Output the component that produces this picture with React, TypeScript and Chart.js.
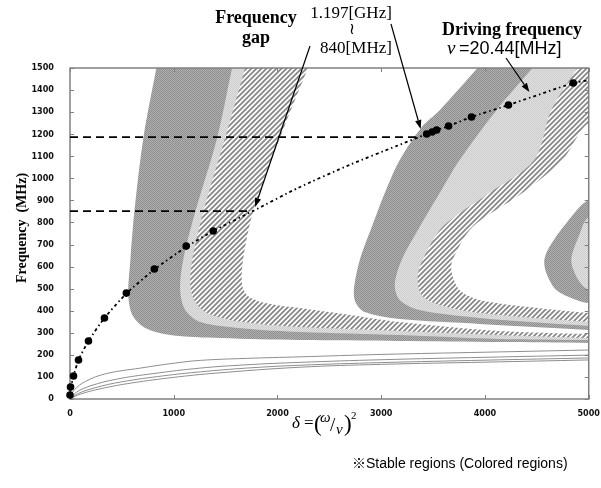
import React, { useEffect, useRef } from "react";
import { Chart, registerables } from "chart.js";

Chart.register(...registerables);

type Pt = [number, number];

// ---- axes ----
const X_MIN = 0, X_MAX = 5000, X_STEP = 1000;
const Y_MIN = 0, Y_MAX = 1500, Y_STEP = 100;

// ---- first stability tongue (left) : boundaries (delta, MHz) ----
const tongueA_outer: Pt[] = [[832,1500],[707,1183],[620,847],[582,630],[562,471],[601,381],[726,322],[966,290],[1447,276],[2216,267],[3178,263],[4139,258],[5000,254]];
const tongueA_mid1: Pt[] = [[1562,1500],[1418,1183],[1207,847],[1091,630],[1062,494],[1111,403],[1255,349],[1736,317],[2216,304],[3178,290],[4139,272],[5000,267]];
const tongueA_mid2: Pt[] = [[1688,1500],[1495,1183],[1284,847],[1178,630],[1159,517],[1197,449],[1303,394],[1543,358],[1832,340],[2216,326],[3178,308],[4139,290],[5000,276]];
const tongueA_inner: Pt[] = [[2293,1500],[2024,1183],[1764,847],[1668,630],[1659,517],[1716,467],[1880,435],[2216,412],[2697,381],[3178,349],[4139,308],[5000,294]];

// ---- second tongue (middle) ----
const tongueB_outer: Pt[] = [[3928,1500],[3563,1309],[3390,1232],[3178,1083],[3034,933],[2909,779],[2793,630],[2736,494],[2755,435],[2841,394],[3178,362],[3947,340],[5000,313]];
const tongueB_mid1: Pt[] = [[4457,1500],[4110,1309],[3755,1083],[3563,933],[3370,779],[3197,630],[3130,517],[3178,449],[3370,403],[3947,367],[5000,331]];
const tongueB_mid2: Pt[] = [[4889,1500],[4639,1309],[4475,1083],[4043,933],[3591,779],[3399,630],[3351,553],[3389,471],[3563,426],[3947,390],[5000,349]];
const tongueB_inner: Pt[] = [[5000,1251],[4745,1083],[4360,933],[3880,779],[3688,630],[3678,575],[3755,494],[3947,449],[4428,417],[5000,390]];

// ---- third tongue (right, partial) ----
const tongueC_outer: Pt[] = [[5000,902],[4783,797],[4620,689],[4572,630],[4591,571],[4687,494],[4880,449],[5000,435]];
const tongueC_inner: Pt[] = [[5000,825],[4909,743],[4832,630],[4889,548],[5000,494]];

// ---- thin low curves ----
const low1: Pt[] = [[0,0],[40,40],[150,80],[350,115],[677,140],[1000,162],[1255,175],[1700,184],[2216,191],[3000,202],[4000,212],[5000,222]];
const low2: Pt[] = [[0,0],[60,30],[200,60],[450,90],[800,115],[1255,140],[1700,155],[2216,166],[3000,178],[4000,189],[5000,199]];
const low3: Pt[] = [[0,0],[80,25],[250,52],[500,78],[900,105],[1255,123],[1700,140],[2216,153],[3000,165],[4000,176],[5000,186]];
const low4: Pt[] = [[0,0],[100,22],[300,47],[600,73],[1000,98],[1400,117],[2216,144],[3000,157],[4000,167],[5000,177]];

// ---- driving frequency curve (dotted) and measured points ----
const drivingCurve: Pt[] = [[0,0],[5,46],[34,104],[82,177],[178,263],[332,367],[543,478],[813,587],[1120,689],[1380,761],[1760,851],[2200,957],[2700,1062],[3150,1147],[3438,1201],[3534,1219],[3649,1237],[3870,1278],[4226,1332],[4851,1432],[5000,1445]];
const dotDelta = [0, 5, 34, 82, 178, 332, 543, 813, 1120, 1380, 3438, 3490, 3534, 3649, 3870, 4226, 4851];
const dotFreq = [18, 54, 104, 177, 263, 367, 480, 589, 693, 761, 1201, 1210, 1219, 1237, 1278, 1332, 1432];

// ---- frequency gap markers ----
const gapHigh = 1187, gapHighEnd = 3372;
const gapLow = 851, gapLowEnd = 1760;

// arrow tips (data units)
const arrowTips: Pt[] = [[1784, 870], [3380, 1223], [4428, 1391]];

const SERIF = '"Liberation Serif", "Times New Roman", serif';
const SANS = '"Liberation Sans", Arial, "Noto Sans CJK JP", sans-serif';

function hasFont(name: string) {
  const c = document.createElement("canvas").getContext("2d")!;
  c.font = "20px monospace";
  const w0 = c.measureText("0123456789abcW").width;
  c.font = `20px "${name}", monospace`;
  return c.measureText("0123456789abcW").width !== w0;
}

function extendTopRight(pts: Pt[]): Pt[] {
  const a = pts[0], b = pts[1];
  const n = pts.length;
  const y = pts[n - 1], z = pts[n - 2];
  const kt = 150 / (a[1] - b[1]);
  const top: Pt = [a[0] + (a[0] - b[0]) * kt, a[1] + 150];
  const kr = 300 / (y[0] - z[0]);
  const right: Pt = [y[0] + 300, y[1] + (y[1] - z[1]) * kr];
  return [top, ...pts, right, [X_MAX + 700, Y_MAX + 500], [top[0], Y_MAX + 500]];
}
function extendRight(pts: Pt[]): Pt[] {
  const a = pts[0], y = pts[pts.length - 1];
  return [[a[0] + 300, a[1]], ...pts, [y[0] + 300, y[1]]];
}

export default function App() {
  const ref = useRef<HTMLCanvasElement>(null);
  useEffect(() => {
    const canvas = ref.current!;
    const ctx = canvas.getContext("2d")!;
    const pat = (w: number, h: number, draw: (g: CanvasRenderingContext2D) => void) => {
      const c = document.createElement("canvas");
      c.width = w; c.height = h;
      const g = c.getContext("2d")!;
      draw(g);
      return ctx.createPattern(c, "repeat")!;
    };
    const dark = pat(2, 2, (g) => {
      g.fillStyle = "#b0b0b0"; g.fillRect(0, 0, 2, 2);
      g.fillStyle = "#8e8e8e"; g.fillRect(0, 0, 1, 1); g.fillRect(1, 1, 1, 1);
    });
    const light = pat(2, 2, (g) => {
      g.fillStyle = "#e0e0e0"; g.fillRect(0, 0, 2, 2);
      g.fillStyle = "#cdcdcd"; g.fillRect(0, 0, 1, 1); g.fillRect(1, 1, 1, 1);
    });
    const hatch = pat(5, 5, (g) => {
      g.fillStyle = "#ffffff"; g.fillRect(0, 0, 5, 5);
      g.strokeStyle = "#888888"; g.lineWidth = 1.8;
      g.beginPath();
      g.moveTo(-1, 6); g.lineTo(6, -1);
      g.moveTo(-1, 1); g.lineTo(1, -1);
      g.moveTo(4, 6); g.lineTo(6, 4);
      g.stroke();
    });

    const toXY = (pts: Pt[]) => pts.map(([x, y]) => ({ x, y }));
    const region = (label: string, pts: Pt[], bg: any, order: number) => ({
      label, data: toXY(pts), fill: "shape", backgroundColor: bg, borderWidth: 0,
      borderColor: "rgba(0,0,0,0)", pointRadius: 0, tension: 0.3, order,
    });
    const thin = (label: string, pts: Pt[], order: number) => ({
      label, data: toXY(pts), fill: false, borderColor: "#8e8e8e", borderWidth: 1,
      pointRadius: 0, tension: 0.4, order,
    });

    const narrow = hasFont("Liberation Sans Narrow");
    const tickFont = narrow
      ? { family: '"Liberation Sans Narrow"', size: 11, weight: "bold" as const }
      : { family: '"DejaVu Sans Condensed", "DejaVu Sans", sans-serif', size: 9, weight: "bold" as const };

    const datasets: any[] = [
      region("A0", extendTopRight(tongueA_outer), dark, 100),
      region("A1", extendTopRight(tongueA_mid1), light, 99),
      region("A2", extendTopRight(tongueA_mid2), hatch, 98),
      region("A3", extendTopRight(tongueA_inner), "#ffffff", 97),
      region("B0", extendTopRight(tongueB_outer), dark, 96),
      region("B1", extendTopRight(tongueB_mid1), light, 95),
      region("B2", extendTopRight(tongueB_mid2), hatch, 94),
      region("B3", extendRight(tongueB_inner), "#ffffff", 93),
      region("C0", extendRight(tongueC_outer), dark, 92),
      region("C1", extendRight(tongueC_inner), light, 91),
      thin("low1", low1, 50),
      thin("low2", low2, 49),
      thin("low3", low3, 48),
      thin("low4", low4, 47),
      {
        label: "gapHigh", data: [{ x: 0, y: gapHigh }, { x: gapHighEnd, y: gapHigh }],
        borderColor: "#000", borderWidth: 1.8, borderDash: [8, 5], pointRadius: 0, fill: false, order: 6,
      },
      {
        label: "gapLow", data: [{ x: 0, y: gapLow }, { x: gapLowEnd, y: gapLow }],
        borderColor: "#000", borderWidth: 1.8, borderDash: [8, 5], pointRadius: 0, fill: false, order: 5,
      },
      {
        label: "driving", data: toXY(drivingCurve), borderColor: "#000", borderWidth: 1.8,
        borderDash: [3, 3, 1.5, 3], pointRadius: 0, fill: false, tension: 0.2, order: 3,
      },
      {
        label: "dots", data: dotDelta.map((d, i) => ({ x: d, y: dotFreq[i] })), showLine: false,
        pointRadius: 3.8, pointBackgroundColor: "#000", pointBorderColor: "#000", borderWidth: 0,
        fill: false, clip: false, order: 1,
      },
    ];

    const drawFrame = (chart: any) => {
      const { left, right, top, bottom } = chart.chartArea;
      const c = chart.ctx;
      c.save();
      c.strokeStyle = "#808080";
      c.lineWidth = 1.5;
      c.strokeRect(left, top, right - left, bottom - top);
      c.lineWidth = 1;
      c.beginPath();
      const xs = chart.scales.x, ys = chart.scales.y;
      xs.ticks.forEach((t: any) => {
        const px = Math.round(xs.getPixelForValue(t.value)) + 0.5;
        c.moveTo(px, bottom); c.lineTo(px, bottom - 4);
        c.moveTo(px, top); c.lineTo(px, top + 4);
      });
      ys.ticks.forEach((t: any) => {
        const py = Math.round(ys.getPixelForValue(t.value)) + 0.5;
        c.moveTo(left, py); c.lineTo(left + 4, py);
        c.moveTo(right, py); c.lineTo(right - 4, py);
      });
      c.stroke();
      c.restore();
    };

    const arrow = (c: CanvasRenderingContext2D, x1: number, y1: number, x2: number, y2: number) => {
      const a = Math.atan2(y2 - y1, x2 - x1);
      const L = 9, W = 3.2;
      const bx = x2 - L * Math.cos(a), by = y2 - L * Math.sin(a);
      c.beginPath(); c.moveTo(x1, y1); c.lineTo(bx, by); c.stroke();
      c.beginPath();
      c.moveTo(x2, y2);
      c.lineTo(bx + W * Math.sin(a), by - W * Math.cos(a));
      c.lineTo(bx - W * Math.sin(a), by + W * Math.cos(a));
      c.closePath(); c.fill();
    };

    const decor = {
      id: "decor",
      afterDatasetDraw(chart: any, args: any) {
        if (chart.data.datasets[args.index].label === "low4") drawFrame(chart);
      },
      afterDraw(chart: any) {
        const c: CanvasRenderingContext2D = chart.ctx;
        const xs = chart.scales.x, ys = chart.scales.y;
        c.save();
        c.fillStyle = "#000"; c.strokeStyle = "#000"; c.textBaseline = "alphabetic";
        const t = (s: string, x: number, y: number, font: string, align: CanvasTextAlign = "center") => {
          c.font = font; c.textAlign = align; c.fillText(s, x, y);
        };
        // annotations
        t("Frequency", 256, 23, `bold 18px ${SERIF}`);
        t("gap", 256, 43, `bold 18px ${SERIF}`);
        t("1.197[GHz]", 351, 18, `17px ${SERIF}`);
        t("\u2240", 352, 34, `16px "DejaVu Serif", ${SERIF}`);
        t("840[MHz]", 356, 53, `17px ${SERIF}`);
        t("Driving frequency", 512, 35, `bold 18px ${SERIF}`);
        t("\u03BD", 447, 54, `italic 19px ${SERIF}`, "left");
        t("=20.44[MHz]", 459, 54, `18px ${SANS}`, "left");
        // y title
        c.save();
        c.translate(26, 228);
        c.rotate(-Math.PI / 2);
        t("Frequency  (MHz)", 0, 0, `bold 14px ${SERIF}`);
        c.restore();
        // x title: delta = (omega/nu)^2
        const by = 428;
        t("\u03B4", 292, by, `italic 17px ${SERIF}`, "left");
        t("=", 304, by, `17px ${SERIF}`, "left");
        t("(", 314, by + 3, `23px ${SERIF}`, "left");
        t("\u03C9", 320, by - 6, `italic 15px ${SERIF}`, "left");
        t("/", 330, by + 3, `19px ${SERIF}`, "left");
        t("\u03BD", 336, by + 6, `italic 15px ${SERIF}`, "left");
        t(")", 344, by + 3, `23px ${SERIF}`, "left");
        t("2", 351, by - 9, `11px ${SERIF}`, "left");
        // note
        t("\u203BStable regions (Colored regions)", 352, 468, `14px ${SANS}`, "left");
        // arrows
        c.lineWidth = 1.2;
        const starts: Pt[] = [[310, 46], [391, 24], [506, 58]];
        arrowTips.forEach(([d, f], i) => {
          arrow(c, starts[i][0], starts[i][1], xs.getPixelForValue(d), ys.getPixelForValue(f));
        });
        c.restore();
      },
    };

    const chart = new Chart(canvas, {
      type: "line",
      data: { datasets },
      options: {
        animation: false,
        responsive: false,
        devicePixelRatio: 1,
        events: [],
        layout: { padding: { top: 68, right: 12, left: 0, bottom: 0 } },
        plugins: { legend: { display: false }, tooltip: { enabled: false } },
        scales: {
          x: {
            type: "linear", min: X_MIN, max: X_MAX,
            afterFit: (s: any) => { s.height = 89; },
            grid: { display: false }, border: { display: false },
            ticks: { stepSize: X_STEP, font: tickFont, color: "#111", padding: 1, maxRotation: 0,
              callback: (v: any) => String(v) },
          },
          y: {
            type: "linear", min: Y_MIN, max: Y_MAX,
            afterFit: (s: any) => { s.width = 70; },
            grid: { display: false }, border: { display: false },
            ticks: { stepSize: Y_STEP, font: tickFont, color: "#111", padding: 8,
              callback: (v: any) => String(v) },
          },
        },
      } as any,
      plugins: [decor],
    });
    return () => chart.destroy();
  }, []);
  return (
    <div style={{ position: "fixed", left: 0, top: 0, width: 601, height: 488, background: "#fff" }}>
      <canvas ref={ref} width={601} height={488} style={{ display: "block", width: 601, height: 488 }} />
    </div>
  );
}
